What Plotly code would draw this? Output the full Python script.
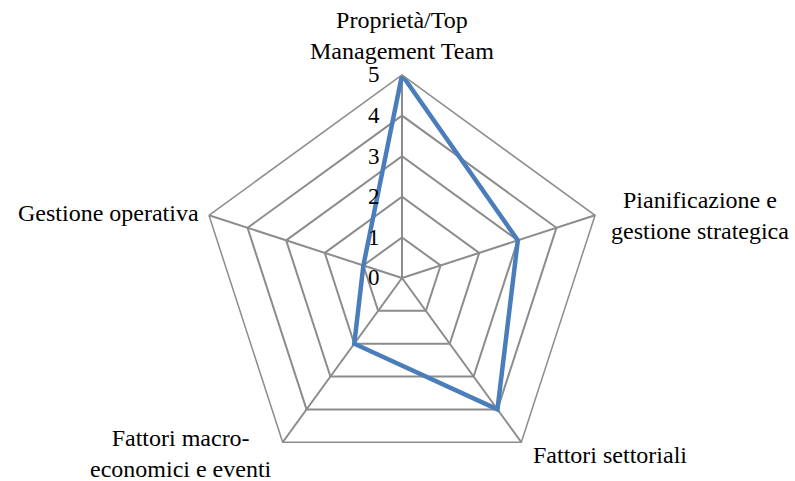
import plotly.graph_objects as go

categories = [
    "Proprietà/Top Management Team",
    "Pianificazione e gestione strategica",
    "Fattori settoriali",
    "Fattori macro-economici e eventi",
    "Gestione operativa",
]
label_text = [
    "Proprietà/Top<br>Management Team",
    "Pianificazione e<br>gestione strategica",
    "Fattori settoriali",
    "Fattori macro-<br>economici e eventi",
    "Gestione operativa",
]
values = [5, 3, 4, 2, 1]
radial_ticks = [0, 1, 2, 3, 4, 5]

W, H = 795, 481
cx, cy, R = 402, 278, 203
FONT = "'Liberation Serif', 'Times New Roman', Times, 'DejaVu Serif', serif"
FS = 24

fig = go.Figure()
fig.add_trace(go.Scatterpolar(
    r=values + [values[0]],
    theta=categories + [categories[0]],
    mode="lines",
    line=dict(color="#4a7ebb", width=4.5),
    showlegend=False,
    hoverinfo="skip",
))

# category label placement (pixel centre, anchors)
label_pos = [
    (402, 35, "center", "middle"),
    (700, 215, "center", "middle"),
    (610, 455, "center", "middle"),
    (181, 453, "center", "middle"),
    (201, 213, "right", "middle"),
]
annotations = []
for txt, (px, py, xa, ya) in zip(label_text, label_pos):
    annotations.append(dict(
        x=px / W, y=1 - py / H, xref="paper", yref="paper",
        text=txt, showarrow=False, xanchor=xa, yanchor=ya, align="center",
        font=dict(family=FONT, size=FS, color="black"),
    ))

fig.update_layout(
    width=W, height=H,
    margin=dict(l=0, r=0, t=0, b=0),
    paper_bgcolor="white",
    font=dict(family=FONT, size=FS, color="black"),
    annotations=annotations,
    polar=dict(
        domain=dict(x=[(cx - R) / W, (cx + R) / W], y=[(H - cy - R) / H, (H - cy + R) / H]),
        bgcolor="white",
        gridshape="linear",
        angularaxis=dict(
            direction="clockwise",
            rotation=90,
            showline=True,
            linecolor="#8c8c8c",
            linewidth=1.5,
            gridcolor="#8c8c8c",
            gridwidth=1.5,
            ticks="",
            showticklabels=False,
        ),
        radialaxis=dict(
            range=[0, 5],
            tickvals=radial_ticks,
            ticktext=[str(v) for v in radial_ticks],
            angle=90,
            tickangle=90,
            side="counterclockwise",
            showline=False,
            ticks="outside",
            ticklen=14,
            tickcolor="rgba(0,0,0,0)",
            gridcolor="#8c8c8c",
            gridwidth=1.5,
            tickfont=dict(family=FONT, size=23, color="black"),
        ),
    ),
)

fig.write_html("out.html")
